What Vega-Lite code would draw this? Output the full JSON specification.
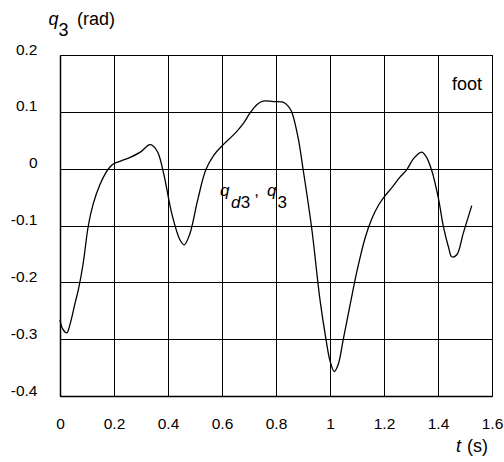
{
  "$schema": "https://vega.github.io/schema/vega-lite/v6.json",
  "width": 432,
  "height": 341,
  "autosize": {"type": "none"},
  "padding": {"left": 60, "top": 55, "right": 12, "bottom": 66},
  "background": "white",
  "config": {
    "view": {"stroke": "#000", "strokeWidth": 1},
    "font": "Liberation Sans",
    "text": {"font": "Liberation Sans", "color": "#000"}
  },
  "datasets": {
    "curve": [
      {"t": 0.000, "q": -0.266}, {"t": 0.010, "q": -0.282}, {"t": 0.025, "q": -0.289},
      {"t": 0.037, "q": -0.274}, {"t": 0.056, "q": -0.236}, {"t": 0.068, "q": -0.213},
      {"t": 0.086, "q": -0.166}, {"t": 0.105, "q": -0.100}, {"t": 0.123, "q": -0.062},
      {"t": 0.148, "q": -0.028}, {"t": 0.170, "q": -0.007}, {"t": 0.185, "q": 0.003},
      {"t": 0.200, "q": 0.009}, {"t": 0.222, "q": 0.013}, {"t": 0.260, "q": 0.020},
      {"t": 0.300, "q": 0.030}, {"t": 0.330, "q": 0.042}, {"t": 0.345, "q": 0.040},
      {"t": 0.363, "q": 0.028}, {"t": 0.385, "q": -0.011}, {"t": 0.415, "q": -0.081},
      {"t": 0.444, "q": -0.125}, {"t": 0.460, "q": -0.134}, {"t": 0.480, "q": -0.116},
      {"t": 0.510, "q": -0.055}, {"t": 0.540, "q": -0.002}, {"t": 0.570, "q": 0.024},
      {"t": 0.600, "q": 0.040}, {"t": 0.650, "q": 0.063}, {"t": 0.680, "q": 0.080},
      {"t": 0.704, "q": 0.098}, {"t": 0.730, "q": 0.113}, {"t": 0.752, "q": 0.119},
      {"t": 0.790, "q": 0.118}, {"t": 0.826, "q": 0.117}, {"t": 0.845, "q": 0.110},
      {"t": 0.858, "q": 0.100}, {"t": 0.882, "q": 0.054}, {"t": 0.900, "q": 0.000},
      {"t": 0.932, "q": -0.104}, {"t": 0.963, "q": -0.231}, {"t": 0.985, "q": -0.300},
      {"t": 1.000, "q": -0.338}, {"t": 1.016, "q": -0.357}, {"t": 1.030, "q": -0.345},
      {"t": 1.049, "q": -0.301}, {"t": 1.078, "q": -0.231}, {"t": 1.100, "q": -0.180},
      {"t": 1.130, "q": -0.122}, {"t": 1.156, "q": -0.087}, {"t": 1.180, "q": -0.064},
      {"t": 1.200, "q": -0.050}, {"t": 1.230, "q": -0.033}, {"t": 1.259, "q": -0.015},
      {"t": 1.284, "q": -0.002}, {"t": 1.310, "q": 0.018}, {"t": 1.339, "q": 0.029},
      {"t": 1.355, "q": 0.022}, {"t": 1.376, "q": -0.002}, {"t": 1.401, "q": -0.051},
      {"t": 1.420, "q": -0.102}, {"t": 1.440, "q": -0.140}, {"t": 1.451, "q": -0.155},
      {"t": 1.469, "q": -0.152}, {"t": 1.494, "q": -0.113}, {"t": 1.525, "q": -0.065}
    ]
  },
  "layer": [
    {
      "data": {"name": "curve"},
      "mark": {"type": "line", "color": "#000", "strokeWidth": 1.3, "interpolate": "catmull-rom"},
      "encoding": {
        "x": {
          "field": "t", "type": "quantitative",
          "scale": {"domain": [0, 1.6], "nice": false, "zero": false},
          "axis": {
            "values": [0, 0.2, 0.4, 0.6, 0.8, 1, 1.2, 1.4, 1.6],
            "title": null, "grid": true, "gridColor": "#000", "gridWidth": 1, "gridOpacity": 1,
            "ticks": false, "domainColor": "#000", "domainWidth": 1.5,
            "labelFont": "Liberation Sans", "labelFontSize": 15.5, "labelColor": "#000",
            "labelPadding": 20, "labelBaseline": "top", "labelFlush": false, "labelOverlap": false,
            "labelExpr": "replace(format(datum.value, '~g'), '\u2212', '-')"
          }
        },
        "y": {
          "field": "q", "type": "quantitative",
          "scale": {"domain": [-0.4, 0.2], "nice": false, "zero": false},
          "axis": {
            "values": [-0.4, -0.3, -0.2, -0.1, 0, 0.1, 0.2],
            "title": null, "grid": true, "gridColor": "#000", "gridWidth": 1, "gridOpacity": 1,
            "ticks": false, "domainColor": "#000", "domainWidth": 1.5,
            "labelFont": "Liberation Sans", "labelFontSize": 15.5, "labelColor": "#000",
            "labelPadding": 23, "labelBaseline": "middle", "labelOffset": -6, "labelFlush": false, "labelOverlap": false,
            "labelExpr": "replace(format(datum.value, '~g'), '\u2212', '-')"
          }
        }
      }
    },
    {
      "data": {"values": [{"label": "foot"}]},
      "mark": {"type": "text", "align": "right", "baseline": "alphabetic", "fontSize": 18},
      "encoding": {"x": {"datum": 1.563, "type": "quantitative"}, "y": {"datum": 0.1384, "type": "quantitative"}, "text": {"field": "label"}}
    },
    {
      "data": {"values": [{"label": "q"}]},
      "mark": {"type": "text", "align": "left", "baseline": "alphabetic", "fontSize": 17, "fontStyle": "italic"},
      "encoding": {"x": {"datum": 0.593, "type": "quantitative"}, "y": {"datum": -0.0481, "type": "quantitative"}, "text": {"field": "label"}}
    },
    {
      "data": {"values": [{"label": "d"}]},
      "mark": {"type": "text", "align": "left", "baseline": "alphabetic", "fontSize": 17, "fontStyle": "italic", "dy": 12},
      "encoding": {"x": {"datum": 0.633, "type": "quantitative"}, "y": {"datum": -0.0481, "type": "quantitative"}, "text": {"field": "label"}}
    },
    {
      "data": {"values": [{"label": "3"}]},
      "mark": {"type": "text", "align": "left", "baseline": "alphabetic", "fontSize": 17, "dy": 12},
      "encoding": {"x": {"datum": 0.669, "type": "quantitative"}, "y": {"datum": -0.0481, "type": "quantitative"}, "text": {"field": "label"}}
    },
    {
      "data": {"values": [{"label": ","}]},
      "mark": {"type": "text", "align": "left", "baseline": "alphabetic", "fontSize": 17},
      "encoding": {"x": {"datum": 0.719, "type": "quantitative"}, "y": {"datum": -0.0481, "type": "quantitative"}, "text": {"field": "label"}}
    },
    {
      "data": {"values": [{"label": "q"}]},
      "mark": {"type": "text", "align": "left", "baseline": "alphabetic", "fontSize": 17, "fontStyle": "italic"},
      "encoding": {"x": {"datum": 0.767, "type": "quantitative"}, "y": {"datum": -0.0481, "type": "quantitative"}, "text": {"field": "label"}}
    },
    {
      "data": {"values": [{"label": "3"}]},
      "mark": {"type": "text", "align": "left", "baseline": "alphabetic", "fontSize": 17, "dy": 12},
      "encoding": {"x": {"datum": 0.806, "type": "quantitative"}, "y": {"datum": -0.0481, "type": "quantitative"}, "text": {"field": "label"}}
    },
    {
      "data": {"values": [{"label": "q"}]},
      "mark": {"type": "text", "align": "left", "baseline": "alphabetic", "fontSize": 18, "fontStyle": "italic"},
      "encoding": {"x": {"datum": -0.043, "type": "quantitative"}, "y": {"datum": 0.2528, "type": "quantitative"}, "text": {"field": "label"}}
    },
    {
      "data": {"values": [{"label": "3"}]},
      "mark": {"type": "text", "align": "left", "baseline": "alphabetic", "fontSize": 18, "dy": 11},
      "encoding": {"x": {"datum": -0.006, "type": "quantitative"}, "y": {"datum": 0.2528, "type": "quantitative"}, "text": {"field": "label"}}
    },
    {
      "data": {"values": [{"label": "(rad)"}]},
      "mark": {"type": "text", "align": "left", "baseline": "alphabetic", "fontSize": 18},
      "encoding": {"x": {"datum": 0.063, "type": "quantitative"}, "y": {"datum": 0.2528, "type": "quantitative"}, "text": {"field": "label"}}
    },
    {
      "data": {"values": [{"label": "t"}]},
      "mark": {"type": "text", "align": "left", "baseline": "alphabetic", "fontSize": 18, "fontStyle": "italic"},
      "encoding": {"x": {"datum": 1.467, "type": "quantitative"}, "y": {"datum": -0.4986, "type": "quantitative"}, "text": {"field": "label"}}
    },
    {
      "data": {"values": [{"label": "(s)"}]},
      "mark": {"type": "text", "align": "left", "baseline": "alphabetic", "fontSize": 18},
      "encoding": {"x": {"datum": 1.507, "type": "quantitative"}, "y": {"datum": -0.4986, "type": "quantitative"}, "text": {"field": "label"}}
    }
  ]
}
